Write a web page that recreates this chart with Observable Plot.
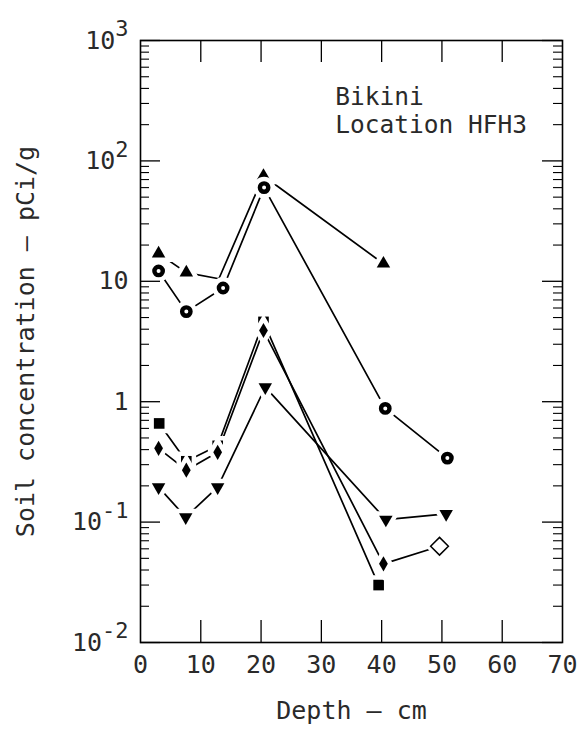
<!DOCTYPE html>
<html>
<head>
<meta charset="utf-8">
<script src="https://cdn.jsdelivr.net/npm/d3@7"></script>
<script src="https://cdn.jsdelivr.net/npm/@observablehq/plot@0.6"></script>
<style>
  html, body { margin: 0; padding: 0; background: #fff; }
  #chart { width: 577px; height: 730px; }
</style>
</head>
<body>
<div id="chart"></div>
<script>
// ---- Data ----
const depthTriUp = [3, 7.6, 13, 20.4, 40.3];
const valueTriUp = [17, 11.8, 10.5, 75, 14];

const depthCircle = [3, 7.6, 13.7, 20.5, 40.6, 50.9];
const valueCircle = [12.2, 5.6, 8.8, 60, 0.88, 0.34];

const depthSquare = [3.1, 7.6, 12.8, 20.4, 39.5];
const valueSquare = [0.66, 0.32, 0.43, 4.6, 0.030];

const depthDiamond = [3, 7.6, 12.8, 20.4, 40.3, 49.6];
const valueDiamond = [0.41, 0.27, 0.38, 3.9, 0.045, 0.063];

const depthTriDown = [3, 7.5, 12.8, 20.7, 40.7, 50.7];
const valueTriDown = [0.195, 0.11, 0.195, 1.32, 0.105, 0.117];

// points drawn without a visible marker / with an open marker
const hiddenMarkers = [{series: "triUp", depth: 13}];
const openMarkers = [{series: "diamond", depth: 49.6}];

// axis tick values and labels
const xTickLabels = [0, 10, 20, 30, 40, 50, 60, 70];
const xInnerTicks = [10, 20, 30, 40, 50, 60];
const yDecades = [0.01, 0.1, 1, 10, 100, 1000];
const yDecadeLabels = ["10^-2", "10^-1", "1", "10", "10^2", "10^3"];

const xLabel = "Depth — cm";
const yLabel = "Soil concentration — pCi/g";
const annotation = "Bikini\nLocation HFH3";

// ---- Build tables ----
const seriesList = [
  {name: "triUp", depth: depthTriUp, value: valueTriUp},
  {name: "circle", depth: depthCircle, value: valueCircle},
  {name: "square", depth: depthSquare, value: valueSquare},
  {name: "diamond", depth: depthDiamond, value: valueDiamond},
  {name: "triDown", depth: depthTriDown, value: valueTriDown}
];
const rows = seriesList.flatMap(s => s.depth.map((d, i) => ({series: s.name, depth: d, value: s.value[i]})));
const isIn = (list, r) => list.some(m => m.series === r.series && m.depth === r.depth);
const markerRows = rows.filter(r => !isIn(hiddenMarkers, r));
const closedRows = markerRows.filter(r => !isIn(openMarkers, r));
const openRows = markerRows.filter(r => isIn(openMarkers, r));

const yMinor = [];
for (const dec of [0.01, 0.1, 1, 10, 100]) for (let k = 2; k <= 9; k++) yMinor.push(+(dec * k).toPrecision(3));

const styles = {
  triUp:   {symbol: "triangle", r: 5, fill: "black"},
  circle:  {symbol: "circle", r: 4.2, fill: "white", stroke: "black", strokeWidth: 4.4},
  square:  {symbol: "square", r: 6, fill: "black"},
  diamond: {symbol: "diamond", r: 4.6, fill: "black"},
  triDown: {symbol: "triangle", r: 5, fill: "black", rotate: 180}
};
const openStyle = {symbol: "diamond2", r: 8, fill: "white", stroke: "black", strokeWidth: 1.5};

const W = 577, H = 730, ML = 140, MR = 15, MT = 40, MB = 88;
const FW = W - ML - MR, FH = H - MT - MB;
const FONT = "DejaVu Sans Mono";
const INK = "#2a2a2a";

const markerMarks = [];
for (const s of seriesList) {
  const st = styles[s.name];
  const data = closedRows.filter(r => r.series === s.name);
  markerMarks.push(Plot.dot(data, {x: "depth", y: "value", symbol: st.symbol, r: st.r, rotate: st.rotate || 0,
    fill: "white", stroke: "white", strokeWidth: 9 + (st.strokeWidth || 0)}));
  markerMarks.push(Plot.dot(data, {x: "depth", y: "value", symbol: st.symbol, r: st.r, rotate: st.rotate || 0,
    fill: st.fill, stroke: st.stroke || "none", strokeWidth: st.strokeWidth || 0}));
}
markerMarks.push(Plot.dot(openRows, {x: "depth", y: "value", symbol: openStyle.symbol, r: openStyle.r,
  fill: "white", stroke: "white", strokeWidth: 8}));
markerMarks.push(Plot.dot(openRows, {x: "depth", y: "value", symbol: openStyle.symbol, r: openStyle.r,
  fill: openStyle.fill, stroke: openStyle.stroke, strokeWidth: openStyle.strokeWidth}));

const chart = Plot.plot({
  width: W, height: H,
  marginLeft: ML, marginRight: MR, marginTop: MT, marginBottom: MB,
  style: {background: "white", fontFamily: FONT},
  x: {domain: [0, 70], axis: null},
  y: {type: "log", domain: [0.01, 1000], axis: null},
  marks: [
    Plot.line(rows, {x: "depth", y: "value", z: "series", stroke: "black", strokeWidth: 1.7, curve: "linear"}),
    ...markerMarks,
    // inward ticks, left & right
    Plot.ruleY(yDecades, {y: d => d, insetRight: FW - 20, stroke: "black", strokeWidth: 1.3}),
    Plot.ruleY(yMinor, {y: d => d, insetRight: FW - 9, stroke: "black", strokeWidth: 1.1}),
    Plot.ruleY(yDecades, {y: d => d, insetLeft: FW - 20, stroke: "black", strokeWidth: 1.3}),
    Plot.ruleY(yMinor, {y: d => d, insetLeft: FW - 9, stroke: "black", strokeWidth: 1.1}),
    // inward ticks, top & bottom
    Plot.ruleX(xInnerTicks, {x: d => d, insetBottom: FH - 22, stroke: "black", strokeWidth: 1.3}),
    Plot.ruleX(xInnerTicks, {x: d => d, insetTop: FH - 22, stroke: "black", strokeWidth: 1.3}),
    Plot.frame({stroke: "black", strokeWidth: 1.6}),
    // tick labels
    Plot.text(xTickLabels, {x: d => d, frameAnchor: "bottom", dy: 22, lineAnchor: "middle",
      text: d => String(d), fontSize: 25, fontFamily: FONT, fill: INK}),
    Plot.text(yDecades, {y: d => d, frameAnchor: "left", dx: -12, textAnchor: "end", lineAnchor: "middle",
      text: (d, i) => yDecadeLabels[i], fontSize: 25, fontFamily: FONT, fill: INK}),
    // axis titles
    Plot.text([xLabel], {frameAnchor: "bottom", dy: 68, lineAnchor: "middle",
      fontSize: 25, fontFamily: FONT, fill: INK}),
    Plot.text([yLabel], {frameAnchor: "left", dx: -115, rotate: -90, textAnchor: "middle", lineAnchor: "middle",
      fontSize: 25, fontFamily: FONT, fill: INK}),
    // annotation
    Plot.text([annotation], {x: 32.3, y: 420, textAnchor: "start", lineAnchor: "top", lineHeight: 1.12,
      fontSize: 24.5, fontFamily: FONT, fill: INK})
  ]
});

// superscript exponents on the decade labels
d3.select(chart).selectAll("text").each(function () {
  if (this.querySelector("tspan")) return;
  const t = this.textContent;
  const k = t.indexOf("^");
  if (k < 0) return;
  const base = t.slice(0, k), exp = t.slice(k + 1);
  const sel = d3.select(this);
  sel.text(null);
  sel.append("tspan").text(base);
  sel.append("tspan").attr("dy", "-0.55em").attr("font-size", 22).text(exp);
});

document.getElementById("chart").appendChild(chart);
</script>
</body>
</html>
